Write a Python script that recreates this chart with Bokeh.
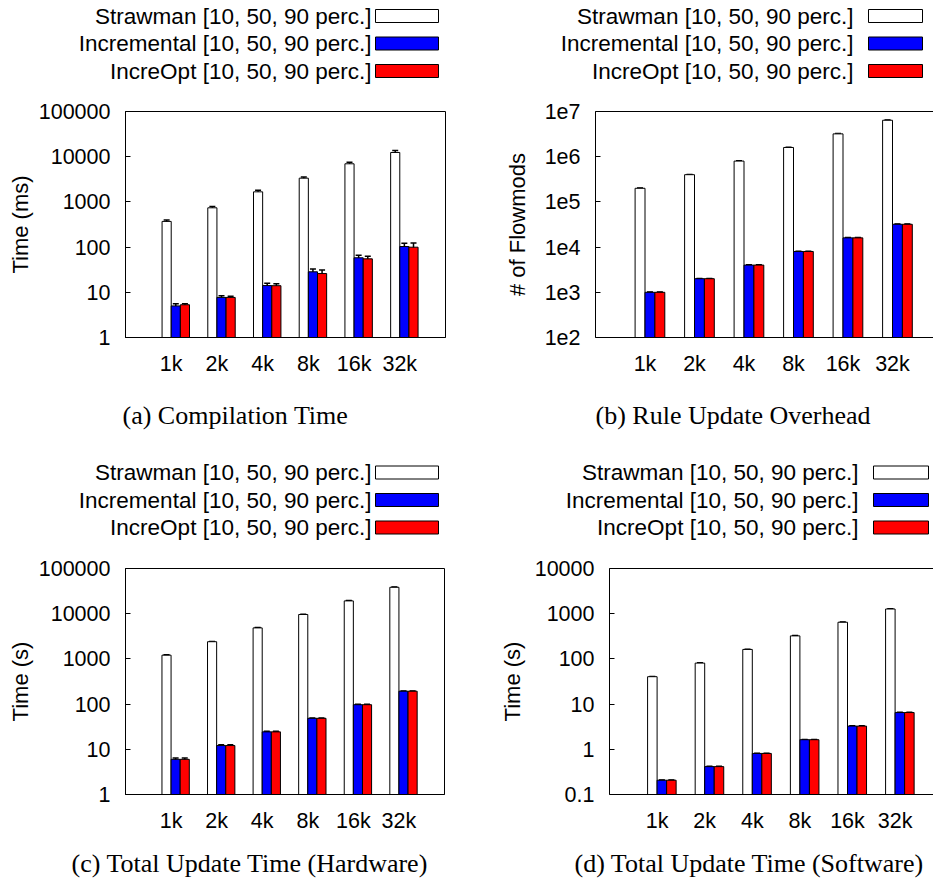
from bokeh.plotting import figure
from bokeh.models import (FixedTicker, LinearAxis, Whisker, ColumnDataSource, Range1d,
                          TeeHead, Title)
from bokeh.layouts import column, row
from bokeh.embed import file_html
from bokeh.resources import INLINE
from bokeh.core.properties import value

SANS = "Liberation Sans"
SERIF = "Liberation Serif"

# ---------------- data ----------------
categories = ["1k", "2k", "4k", "8k", "16k", "32k"]
series_names = ["Strawman [10, 50, 90 perc.]",
                "Incremental [10, 50, 90 perc.]",
                "IncreOpt [10, 50, 90 perc.]"]
series_colors = ["#ffffff", "#0000ff", "#ff0000"]

# (a) Compilation Time (ms): median, 10th, 90th percentile
comp_straw = [370, 740, 1670, 3350, 6970, 12400]
comp_straw_p10 = [340, 690, 1540, 3150, 6500, 11200]
comp_straw_p90 = [400, 790, 1800, 3550, 7500, 13700]
comp_incr = [5.0, 7.7, 14.1, 28.4, 58, 103]
comp_incr_p10 = [4.5, 7.1, 12.6, 24.6, 51, 86]
comp_incr_p90 = [5.6, 8.4, 15.9, 32.6, 66, 122]
comp_opt = [5.3, 7.7, 14.0, 26.0, 55, 99.5]
comp_opt_p10 = [5.0, 7.2, 12.6, 21.8, 48, 81]
comp_opt_p90 = [5.6, 8.2, 15.5, 31.0, 63, 123]

# (b) Rule Update Overhead (# of flowmods)
flow_straw = [200000, 400000, 800000, 1600000, 3200000, 6400000]
flow_straw_p10 = [197000, 394000, 788000, 1576000, 3150000, 6300000]
flow_straw_p90 = [203000, 406000, 812000, 1624000, 3250000, 6500000]
flow_incr = [1000, 2000, 4000, 8000, 16000, 32000]
flow_incr_p10 = [985, 1970, 3940, 7880, 15760, 31500]
flow_incr_p90 = [1015, 2030, 4060, 8120, 16240, 32500]
flow_opt = [1000, 2000, 4000, 8000, 16000, 32000]
flow_opt_p10 = [985, 1970, 3940, 7880, 15760, 31500]
flow_opt_p90 = [1015, 2030, 4060, 8120, 16240, 32500]

# (c) Total Update Time, Hardware (s)
hw_straw = [1210, 2400, 4850, 9600, 19200, 38400]
hw_straw_p10 = [1190, 2360, 4780, 9460, 18900, 37900]
hw_straw_p90 = [1230, 2440, 4920, 9740, 19500, 38900]
hw_incr = [6.0, 12.1, 24.3, 48.5, 97, 193]
hw_incr_p10 = [5.6, 11.6, 23.6, 47.5, 95, 190]
hw_incr_p90 = [6.4, 12.6, 25.0, 49.5, 99, 196]
hw_opt = [6.0, 12.1, 24.3, 48.5, 97, 193]
hw_opt_p10 = [5.6, 11.6, 23.6, 47.5, 95, 190]
hw_opt_p90 = [6.4, 12.6, 25.0, 49.5, 99, 196]

# (d) Total Update Time, Software (s)
sw_straw = [40.4, 80.7, 162, 323, 647, 1270]
sw_straw_p10 = [39.8, 79.5, 159.5, 318, 638, 1252]
sw_straw_p90 = [41.0, 81.9, 164.5, 328, 656, 1288]
sw_incr = [0.207, 0.414, 0.81, 1.63, 3.26, 6.5]
sw_incr_p10 = [0.204, 0.408, 0.80, 1.61, 3.21, 6.41]
sw_incr_p90 = [0.210, 0.420, 0.82, 1.65, 3.31, 6.59]
sw_opt = [0.207, 0.414, 0.81, 1.63, 3.26, 6.5]
sw_opt_p10 = [0.204, 0.408, 0.80, 1.61, 3.21, 6.41]
sw_opt_p90 = [0.210, 0.420, 0.82, 1.65, 3.31, 6.59]

yticks_a = [1, 10, 100, 1000, 10000, 100000]
ylabels_a = ["1", "10", "100", "1000", "10000", "100000"]
yticks_b = [1e2, 1e3, 1e4, 1e5, 1e6, 1e7]
ylabels_b = ["1e2", "1e3", "1e4", "1e5", "1e6", "1e7"]
yticks_c = [1, 10, 100, 1000, 10000, 100000]
ylabels_c = ["1", "10", "100", "1000", "10000", "100000"]
yticks_d = [0.1, 1, 10, 100, 1000, 10000]
ylabels_d = ["0.1", "1", "10", "100", "1000", "10000"]

captions = ["(a) Compilation Time", "(b) Rule Update Overhead",
            "(c) Total Update Time (Hardware)", "(d) Total Update Time (Software)"]
ytitles = ["Time (ms)", "# of Flowmods", "Time (s)", "Time (s)"]

# ---------------- styling / layout ----------------
bar_offsets = [-0.1, 0.1, 0.3]
bar_width = 0.2
TICK_FONT = "21.5px"
LABEL_FONT = "22px"
LEGEND_FONT = "22.5px"
LEG_H = 101


def make_legend(width, text_right, sw_left, sw_right, rows_y, sw_h=13):
    f = figure(width=width, height=LEG_H, x_range=Range1d(0, width),
               y_range=Range1d(LEG_H, 0), output_backend="svg",
               toolbar_location=None, x_axis_location=None, y_axis_location=None,
               min_border=0, min_border_left=0, min_border_right=0,
               min_border_top=0, min_border_bottom=0)
    f.outline_line_color = None
    f.xgrid.visible = False
    f.ygrid.visible = False
    f.text(x=[text_right] * 3, y=rows_y, text=series_names, text_align="right",
           text_baseline="middle", text_font=value(SANS), text_font_size=LEGEND_FONT,
           text_color="black")
    f.quad(left=[sw_left] * 3, right=[sw_right] * 3,
           top=[y - sw_h / 2 for y in rows_y], bottom=[y + sw_h / 2 for y in rows_y],
           fill_color=series_colors, line_color="black", line_width=1)
    return f


def make_plot(width, height, bl, br, bb, x_end, ylo, yhi, yticks, ylabels, ytitle,
              title_standoff, series, boxed, caption, cap_offset, cap_standoff):
    p = figure(width=width, height=height, y_axis_type="log",
               x_range=Range1d(-1, x_end), y_range=Range1d(ylo, yhi),
               output_backend="svg", toolbar_location=None,
               min_border_left=bl, min_border_right=br,
               min_border_top=10, min_border_bottom=bb)
    p.xgrid.visible = False
    p.ygrid.visible = False
    for k, (med, lo, hi) in enumerate(series):
        xs = [i + bar_offsets[k] for i in range(len(categories))]
        src = ColumnDataSource(dict(x=xs, top=med, lo=lo, hi=hi))
        p.vbar(x="x", top="top", bottom=ylo, width=bar_width, source=src,
               fill_color=series_colors[k], line_color="black", line_width=1)
        w = Whisker(base="x", lower="lo", upper="hi", source=src,
                    line_color="black", line_width=1.5,
                    upper_head=TeeHead(size=6, line_color="black", line_width=1.5),
                    lower_head=TeeHead(size=6, line_color="black", line_width=1.5))
        p.add_layout(w)

    xa = p.xaxis[0]
    xa.ticker = FixedTicker(ticks=list(range(len(categories))))
    xa.major_label_overrides = {i: c for i, c in enumerate(categories)}
    xa.major_tick_out = 0
    xa.major_tick_in = 0
    xa.minor_tick_line_color = None
    xa.major_label_standoff = 14
    xa.major_label_text_font = SANS
    xa.major_label_text_font_size = TICK_FONT
    xa.major_label_text_color = "black"
    xa.axis_line_color = "black"

    ya = p.yaxis[0]
    ya.ticker = FixedTicker(ticks=yticks)
    ya.major_label_overrides = {t: l for t, l in zip(yticks, ylabels)}
    ya.major_tick_out = 0
    ya.major_tick_in = 5
    ya.major_tick_line_color = "black"
    ya.minor_tick_line_color = None
    ya.major_label_standoff = 15
    ya.major_label_text_font = SANS
    ya.major_label_text_font_size = TICK_FONT
    ya.major_label_text_color = "black"
    ya.axis_line_color = "black"
    ya.axis_label = ytitle
    ya.axis_label_text_font = SANS
    ya.axis_label_text_font_size = LABEL_FONT
    ya.axis_label_text_font_style = "normal"
    ya.axis_label_text_color = "black"
    ya.axis_label_standoff = title_standoff

    if boxed:
        p.outline_line_color = "black"
        p.outline_line_width = 1
        p.outline_line_alpha = 1
    else:
        p.outline_line_color = None
        top = LinearAxis(ticker=FixedTicker(ticks=[]), major_tick_out=0, major_tick_in=0,
                         minor_tick_out=0, minor_tick_in=0, major_label_standoff=0,
                         major_label_text_font_size="0px", axis_line_color="black")
        p.add_layout(top, "above")

    p.add_layout(Title(text=caption, align="left", offset=cap_offset,
                       standoff=cap_standoff, text_font=SERIF, text_font_size="26px",
                       text_font_style="normal", text_color="black"), "below")
    return p


rows_top = [15.5, 43, 70.5]
rows_bot = [15, 42.5, 70]

leg_a = make_legend(466, 371, 375, 438, rows_top)
plot_a = make_plot(466, 356, 125, 21, 120, 6, 1, 100000, yticks_a, ylabels_a,
                   ytitles[0], 3,
                   [(comp_straw, comp_straw_p10, comp_straw_p90),
                    (comp_incr, comp_incr_p10, comp_incr_p90),
                    (comp_opt, comp_opt_p10, comp_opt_p90)], True,
                   captions[0], -3, 40)

leg_b = make_legend(467, 387, 402, 456, rows_top)
plot_b = make_plot(467, 356, 129, 0, 120, -1 + 338 / 49.5, 1e2, 1e7, yticks_b,
                   ylabels_b, ytitles[1], 12,
                   [(flow_straw, flow_straw_p10, flow_straw_p90),
                    (flow_incr, flow_incr_p10, flow_incr_p90),
                    (flow_opt, flow_opt_p10, flow_opt_p90)], False,
                   captions[1], 0, 40)

leg_c = make_legend(466, 371, 375, 438, rows_bot)
plot_c = make_plot(466, 330, 125, 22, 93, 6, 1, 100000, yticks_c, ylabels_c,
                   ytitles[2], 3,
                   [(hw_straw, hw_straw_p10, hw_straw_p90),
                    (hw_incr, hw_incr_p10, hw_incr_p90),
                    (hw_opt, hw_opt_p10, hw_opt_p90)], True,
                   captions[2], -54, 22)

leg_d = make_legend(467, 392, 407, 462, rows_bot)
plot_d = make_plot(467, 330, 143, 0, 93, -1 + 324 / 47.6, 0.1, 10000, yticks_d,
                   ylabels_d, ytitles[3], 7,
                   [(sw_straw, sw_straw_p10, sw_straw_p90),
                    (sw_incr, sw_incr_p10, sw_incr_p90),
                    (sw_opt, sw_opt_p10, sw_opt_p90)], False,
                   captions[3], -35, 22)

layout = column(
    row(column(row(leg_a), plot_a), column(row(leg_b), plot_b)),
    row(column(row(leg_c), plot_c), column(row(leg_d), plot_d)),
)

open("out.html", "w").write(file_html(layout, INLINE))
